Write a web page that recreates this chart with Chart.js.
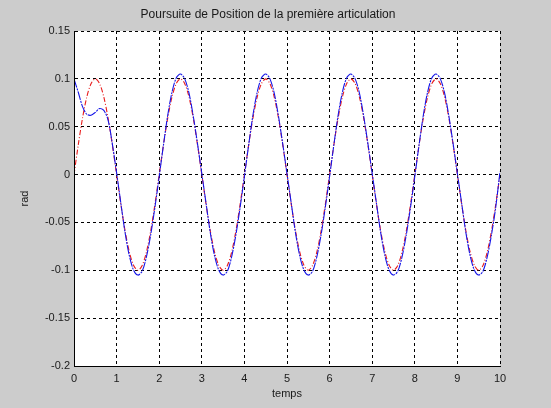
<!DOCTYPE html>
<html>
<head>
<meta charset="utf-8">
<script src="https://cdn.jsdelivr.net/npm/chart.js@4.4.0/dist/chart.umd.min.js"></script>
<style>
html,body{margin:0;padding:0;background:#cccccc;}
#wrap{width:551px;height:408px;}
</style>
</head>
<body>
<div id="wrap"><canvas id="c" width="551" height="408"></canvas></div>
<script>
const titleText = "Poursuite de Position de la première articulation";
const xLabel = "temps";
const yLabel = "rad";
const xTicks = [0,1,2,3,4,5,6,7,8,9,10];
const yTicks = [-0.2,-0.15,-0.1,-0.05,0,0.05,0.1,0.15];
const yTickLabels = ["-0.2","-0.15","-0.1","-0.05","0","0.05","0.1","0.15"];

const tValues = [
0,0.1,0.2,0.3,0.4,0.5,0.6,0.7,0.8,0.9,
1,1.1,1.2,1.3,1.4,1.5,1.6,1.7,1.8,1.9,
2,2.1,2.2,2.3,2.4,2.5,2.6,2.7,2.8,2.9,
3,3.1,3.2,3.3,3.4,3.5,3.6,3.7,3.8,3.9,
4,4.1,4.2,4.3,4.4,4.5,4.6,4.7,4.8,4.9,
5,5.1,5.2,5.3,5.4,5.5,5.6,5.7,5.8,5.9,
6,6.1,6.2,6.3,6.4,6.5,6.6,6.7,6.8,6.9,
7,7.1,7.2,7.3,7.4,7.5,7.6,7.7,7.8,7.9,
8,8.1,8.2,8.3,8.4,8.5,8.6,8.7,8.8,8.9,
9,9.1,9.2,9.3,9.4,9.5,9.6,9.7,9.8,9.9,
10];

const refValues = [
0,0.031,0.059,0.081,0.095,0.100,0.095,0.081,0.059,0.031,
0,-0.031,-0.059,-0.081,-0.095,-0.100,-0.095,-0.081,-0.059,-0.031,
0,0.031,0.059,0.081,0.095,0.100,0.095,0.081,0.059,0.031,
0,-0.031,-0.059,-0.081,-0.095,-0.100,-0.095,-0.081,-0.059,-0.031,
0,0.031,0.059,0.081,0.095,0.100,0.095,0.081,0.059,0.031,
0,-0.031,-0.059,-0.081,-0.095,-0.100,-0.095,-0.081,-0.059,-0.031,
0,0.031,0.059,0.081,0.095,0.100,0.095,0.081,0.059,0.031,
0,-0.031,-0.059,-0.081,-0.095,-0.100,-0.095,-0.081,-0.059,-0.031,
0,0.031,0.059,0.081,0.095,0.100,0.095,0.081,0.059,0.031,
0,-0.031,-0.059,-0.081,-0.095,-0.100,-0.095,-0.081,-0.059,-0.031,
0];

const posValues = [
0.100,0.086,0.071,0.063,0.062,0.065,0.069,0.067,0.057,0.032,
0.002,-0.030,-0.061,-0.085,-0.100,-0.105,-0.101,-0.086,-0.063,-0.034,
-0.002,0.031,0.062,0.086,0.101,0.105,0.100,0.085,0.061,0.032,
0.001,-0.030,-0.061,-0.085,-0.100,-0.105,-0.101,-0.086,-0.063,-0.034,
-0.002,0.031,0.062,0.086,0.101,0.105,0.100,0.085,0.061,0.032,
0.001,-0.030,-0.061,-0.085,-0.100,-0.105,-0.101,-0.086,-0.063,-0.034,
-0.002,0.031,0.062,0.086,0.101,0.105,0.100,0.085,0.061,0.032,
0.001,-0.030,-0.061,-0.085,-0.100,-0.105,-0.101,-0.086,-0.063,-0.034,
-0.002,0.031,0.062,0.086,0.101,0.105,0.100,0.085,0.061,0.032,
0.001,-0.030,-0.061,-0.085,-0.100,-0.105,-0.101,-0.086,-0.063,-0.034,
0.003];

const FONT = "'Liberation Sans', Arial, sans-serif";

const bgPlugin = {
  id: 'bg',
  beforeDraw(chart) {
    const {ctx, chartArea: a} = chart;
    ctx.save();
    ctx.fillStyle = '#cccccc';
    ctx.fillRect(0, 0, chart.width, chart.height);
    ctx.fillStyle = '#ffffff';
    ctx.fillRect(a.left, a.top, a.right - a.left, a.bottom - a.top);
    ctx.restore();
  },
  afterDraw(chart) {
    const {ctx} = chart;
    ctx.save();
    ctx.fillStyle = '#1a1a1a';
    ctx.font = "12px " + FONT;
    ctx.textAlign = 'center';
    ctx.textBaseline = 'middle';
    ctx.fillText(titleText, 268, 15);
    ctx.restore();
  }
};

const pts = (ys) => tValues.map((t, i) => ({x: t, y: ys[i]}));

new Chart(document.getElementById('c'), {
  type: 'line',
  data: {
    datasets: [
      {
        label: 'q',
        data: pts(posValues),
        borderColor: '#1515e8',
        borderWidth: 1.1,
        borderDash: [9, 1, 2, 1],
        pointRadius: 0,
        tension: 0.3,
        fill: false
      },
      {
        label: 'qd',
        data: pts(refValues),
        borderColor: '#e81c1c',
        borderWidth: 1.1,
        borderDash: [5, 2, 1, 2],
        pointRadius: 0,
        tension: 0.3,
        fill: false
      }
    ]
  },
  options: {
    responsive: false,
    animation: false,
    devicePixelRatio: 1,
    layout: {padding: {top: 31, right: 51, left: 0, bottom: 0}},
    plugins: {legend: {display: false}, tooltip: {enabled: false}, title: {display: false}},
    scales: {
      x: {
        type: 'linear',
        min: 0, max: 10,
        afterBuildTicks(scale) { scale.ticks = xTicks.map(v => ({value: v})); },
        afterFit(scale) { scale.height = 42; },
        ticks: {
          color: '#1a1a1a',
          font: {family: FONT, size: 11},
          padding: 6,
          maxRotation: 0,
          autoSkip: false,
          callback: (v) => String(v)
        },
        grid: {
          color: '#000000',
          lineWidth: 1,
          drawTicks: false
        },
        border: {display: true, color: '#000000', width: 1, dash: [3, 3]},
        title: {
          display: true, text: xLabel, color: '#1a1a1a',
          font: {family: FONT, size: 11},
          padding: {top: 0, bottom: 7}
        }
      },
      y: {
        type: 'linear',
        min: -0.2, max: 0.15,
        afterBuildTicks(scale) { scale.ticks = yTicks.map(v => ({value: v})); },
        afterFit(scale) { scale.width = 74; },
        ticks: {
          color: '#1a1a1a',
          font: {family: FONT, size: 11},
          padding: 4,
          autoSkip: false,
          callback: (v) => { const i = yTicks.findIndex(t => Math.abs(t - v) < 1e-9); return i >= 0 ? yTickLabels[i] : ''; }
        },
        grid: {
          color: '#000000',
          lineWidth: 1,
          drawTicks: false
        },
        border: {display: true, color: '#000000', width: 1, dash: [3, 3]},
        title: {
          display: true, text: yLabel, color: '#1a1a1a',
          font: {family: FONT, size: 11},
          padding: {top: 18, bottom: 0}
        }
      }
    }
  },
  plugins: [bgPlugin, {
    id: 'solidAxes',
    afterDraw(chart) {
      const {ctx, chartArea: a} = chart;
      ctx.save();
      ctx.strokeStyle = '#000000';
      ctx.lineWidth = 1;
      ctx.setLineDash([]);
      ctx.beginPath();
      ctx.moveTo(a.left + 0.5, a.top);
      ctx.lineTo(a.left + 0.5, a.bottom + 0.5);
      ctx.lineTo(a.right, a.bottom + 0.5);
      ctx.stroke();
      ctx.restore();
    }
  }]
});
</script>
</body>
</html>
